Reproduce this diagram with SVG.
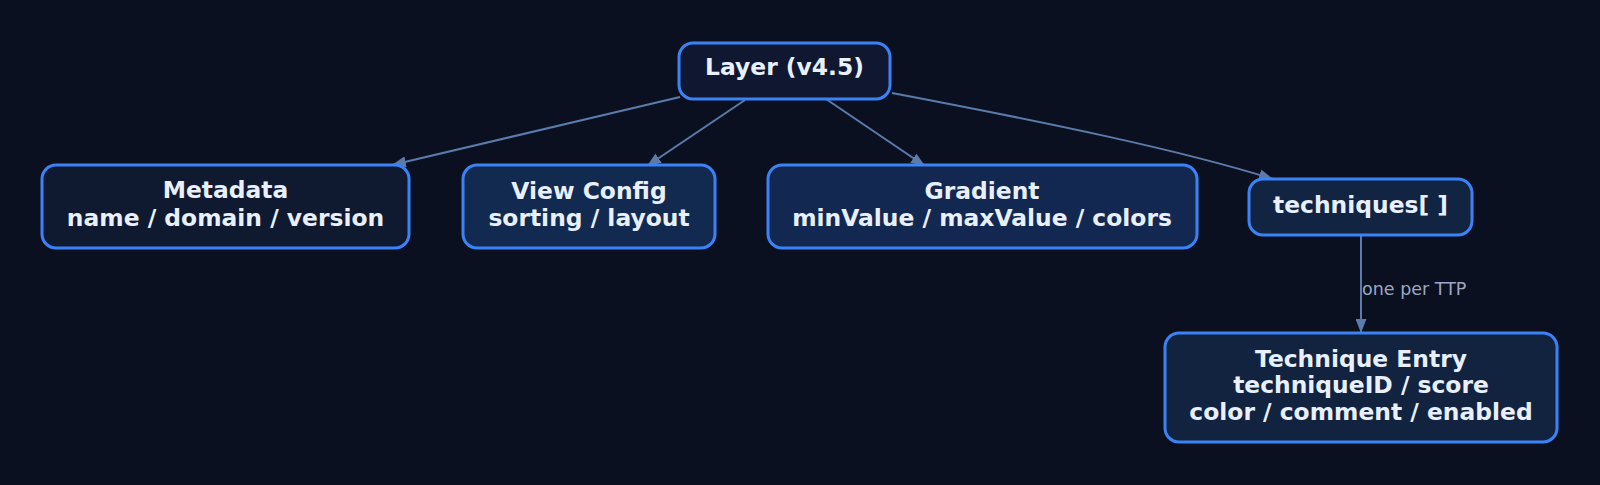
<svg xmlns="http://www.w3.org/2000/svg" width="1600" height="485" viewBox="0 0 1600 485">
<defs>
<style>
.node rect{stroke:#3b82f6;stroke-width:3}
.node text{font-family:"DejaVu Sans",sans-serif;font-weight:bold;font-size:23.4px;fill:#e8f0ff;text-anchor:middle}
.edge{fill:none;stroke:#5b7bab;stroke-width:2}
.lbl{font-family:"DejaVu Sans",sans-serif;font-size:17.5px;fill:#9aa8c4}
</style>
<marker id="arr" viewBox="0 0 14 11" refX="14" refY="5.5" markerWidth="14" markerHeight="11" markerUnits="userSpaceOnUse" orient="auto">
<path d="M0,0 L14,5.5 L0,11 Z" fill="#5b7bab"/>
</marker>
</defs>
<rect width="1600" height="485" fill="#0b1020"/>
<g id="connectors">
<path class="edge" d="M680,97 L392,165" marker-end="url(#arr)"/>
<path class="edge" d="M745,100 L647,166" marker-end="url(#arr)"/>
<path class="edge" d="M826,99 L925,166" marker-end="url(#arr)"/>
<path class="edge" d="M892,93 C1050,123 1180,150 1273,179" marker-end="url(#arr)"/>
<path class="edge" d="M1361,235 L1361,333" marker-end="url(#arr)"/>
<text class="lbl" x="1362" y="295">one per TTP</text>
</g>
<g id="layer" class="node">
<rect x="679" y="43" width="211" height="56" rx="14" fill="#0f1830"/>
<text x="784.5" y="75">Layer (v4.5)</text>
</g>
<g id="metadata" class="node">
<rect x="42" y="165" width="367" height="83" rx="14" fill="#0f1a30"/>
<text x="225.5" y="198">Metadata</text>
<text x="225.5" y="225.5">name / domain / version</text>
</g>
<g id="viewconfig" class="node">
<rect x="463" y="165" width="252" height="83" rx="14" fill="#132a50"/>
<text x="589" y="199">View Config</text>
<text x="589" y="226">sorting / layout</text>
</g>
<g id="gradient" class="node">
<rect x="768" y="165" width="429" height="83" rx="14" fill="#132850"/>
<text x="982" y="199">Gradient</text>
<text x="982" y="225.5">minValue / maxValue / colors</text>
</g>
<g id="techniques" class="node">
<rect x="1249" y="179" width="223" height="56" rx="14" fill="#112442"/>
<text x="1360.5" y="212.5">techniques[ ]</text>
</g>
<g id="entry" class="node">
<rect x="1165" y="333" width="392" height="109" rx="14" fill="#12233f"/>
<text x="1361" y="366.5">Technique Entry</text>
<text x="1361" y="393">techniqueID / score</text>
<text x="1361" y="419.5">color / comment / enabled</text>
</g>
</svg>
